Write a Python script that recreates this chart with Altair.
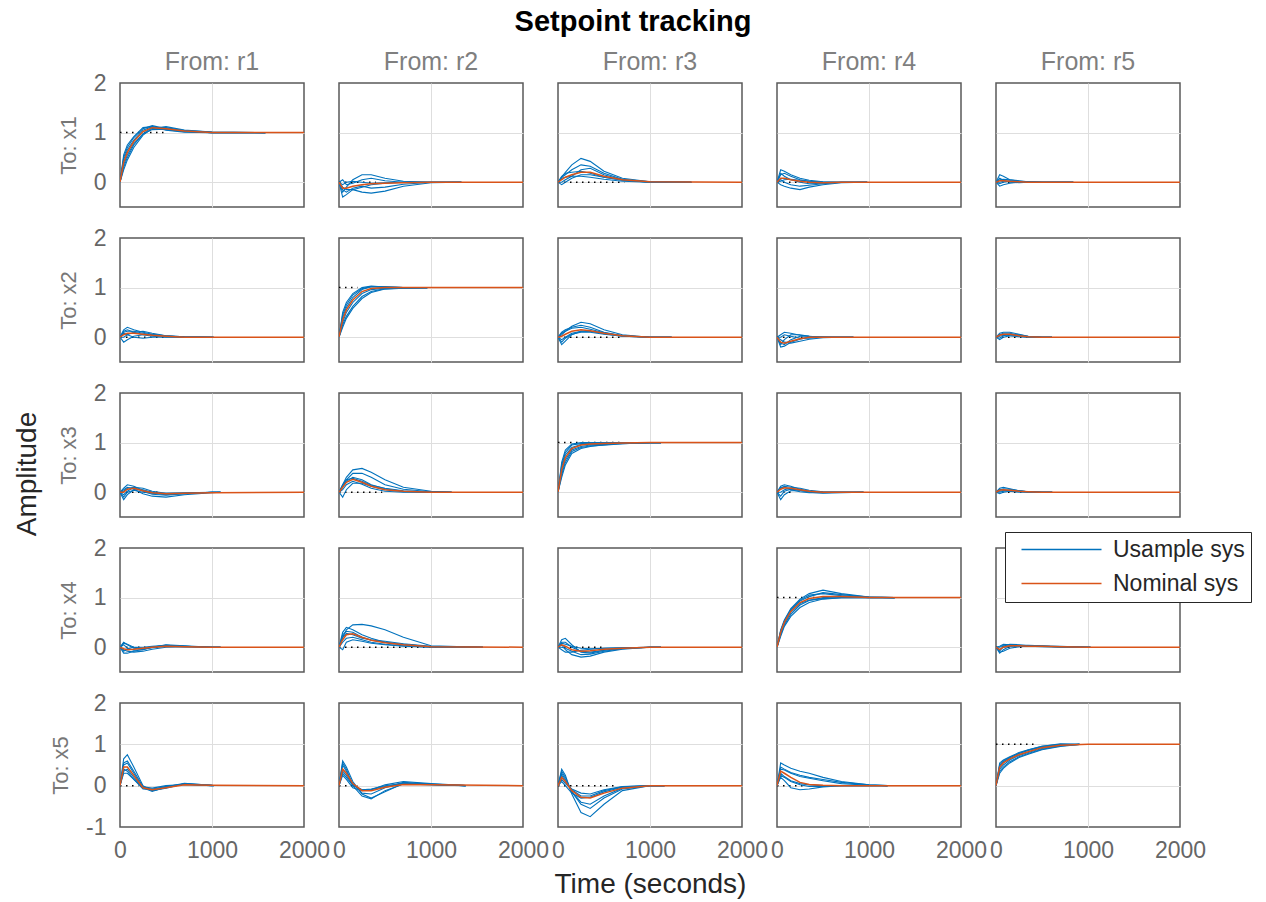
import altair as alt
import pandas as pd

FONT = "Liberation Sans"
BLUE = "#0072BD"
ORANGE = "#D95319"

OUTPUTS = ["x1", "x2", "x3", "x4", "x5"]
INPUTS = ["r1", "r2", "r3", "r4", "r5"]
T = [0, 40, 80, 150, 250, 350, 500, 700, 1000]

# time at which the Usample curves stop (per output row, input column)
USAMPLE_END = [
    [1580, 1330, 1450, 980, 840],
    [1016, 960, 1235, 830, 610],
    [1093, 1224, 1120, 940, 611],
    [1093, 1564, 1120, 1279, 1027],
    [1016, 1377, 1158, 1202, 907],
]
# length of the dotted steady-state marker
DOTTED_END = [
    [500, 400, 720, 450, 300],
    [490, 200, 670, 350, 350],
    [450, 470, 670, 150, 300],
    [450, 1080, 500, 415, 300],
    [200, 200, 630, 300, 430],
]

# ---------------- To: x1 ----------------
x1_r1_nom = [0, 0.4, 0.6, 0.82, 1.02, 1.1, 1.08, 1.03, 1.0]
x1_r1_usample = [
    [0, 0.5, 0.7, 0.9, 1.08, 1.14, 1.08, 1.03, 1.0],
    [0, 0.3, 0.5, 0.75, 0.98, 1.1, 1.1, 1.04, 1.01],
    [0, 0.45, 0.65, 0.85, 1.05, 1.12, 1.06, 1.02, 1.0],
    [0, 0.35, 0.55, 0.78, 0.97, 1.06, 1.07, 1.03, 1.0],
    [0, 0.25, 0.45, 0.7, 0.95, 1.08, 1.12, 1.05, 1.01],
    [0, 0.55, 0.75, 0.92, 1.1, 1.12, 1.05, 1.01, 1.0],
]
x1_r2_nom = [0, -0.12, -0.12, -0.08, -0.05, -0.03, -0.02, -0.01, 0]
x1_r2_usample = [
    [0, -0.2, -0.1, 0.05, 0.15, 0.15, 0.08, 0.02, 0],
    [0, -0.3, -0.25, -0.15, -0.1, -0.05, -0.02, 0, 0],
    [0, -0.1, -0.15, -0.15, -0.2, -0.22, -0.18, -0.08, -0.01],
    [0, 0.05, -0.05, -0.02, 0.05, 0.08, 0.03, 0.0, 0],
    [0, -0.15, -0.2, -0.12, -0.08, -0.12, -0.1, -0.04, 0],
    [0, -0.05, 0.0, 0.02, 0.0, -0.02, -0.01, 0, 0],
]
x1_r3_nom = [0, 0.05, 0.1, 0.15, 0.2, 0.2, 0.12, 0.05, 0.01]
x1_r3_usample = [
    [0, 0.1, 0.2, 0.35, 0.48, 0.42, 0.22, 0.08, 0.01],
    [0, 0.1, 0.15, 0.25, 0.35, 0.32, 0.18, 0.06, 0.01],
    [0, -0.05, 0.0, 0.08, 0.15, 0.15, 0.1, 0.04, 0.0],
    [0, 0.12, 0.18, 0.2, 0.22, 0.18, 0.1, 0.04, 0.0],
    [0, 0.0, 0.05, 0.12, 0.25, 0.28, 0.15, 0.05, 0.0],
    [0, 0.08, 0.1, 0.12, 0.12, 0.1, 0.06, 0.02, 0.0],
]
x1_r4_nom = [0, 0.08, 0.08, 0.05, 0.02, 0.0, -0.01, 0, 0]
x1_r4_usample = [
    [0, 0.25, 0.22, 0.15, 0.08, 0.04, 0.01, 0, 0],
    [0, 0.15, 0.18, 0.12, 0.05, 0.02, 0, 0, 0],
    [0, -0.05, -0.08, -0.12, -0.15, -0.1, -0.05, -0.01, 0],
    [0, 0.05, 0.0, -0.05, -0.08, -0.06, -0.03, 0, 0],
    [0, 0.18, 0.12, 0.05, 0.0, -0.03, -0.02, 0, 0],
    [0, 0.02, 0.05, 0.06, 0.04, 0.02, 0.0, 0, 0],
]
x1_r5_nom = [0, 0.03, 0.03, 0.02, 0.01, 0.0, 0, 0, 0]
x1_r5_usample = [
    [0, 0.15, 0.12, 0.05, 0.02, 0.01, 0, 0, 0],
    [0, -0.08, -0.05, -0.02, 0, 0, 0, 0, 0],
    [0, 0.05, 0.06, 0.05, 0.03, 0.01, 0, 0, 0],
    [0, -0.03, 0.0, 0.02, 0.02, 0.01, 0, 0, 0],
    [0, 0.08, 0.04, 0.0, -0.01, 0, 0, 0, 0],
    [0, 0.0, 0.02, 0.03, 0.01, 0.0, 0, 0, 0],
]

# ---------------- To: x2 ----------------
x2_r1_nom = [0, 0.05, 0.08, 0.08, 0.06, 0.04, 0.02, 0.0, 0]
x2_r1_usample = [
    [0, 0.15, 0.2, 0.15, 0.1, 0.06, 0.03, 0.01, 0],
    [0, -0.1, -0.05, 0.02, 0.05, 0.05, 0.03, 0.01, 0],
    [0, 0.1, 0.12, 0.12, 0.08, 0.05, 0.02, 0, 0],
    [0, 0.0, 0.05, 0.1, 0.12, 0.08, 0.03, 0, 0],
    [0, 0.08, 0.05, 0.0, -0.02, 0.0, 0.01, 0, 0],
    [0, 0.12, 0.15, 0.1, 0.05, 0.02, 0.0, 0, 0],
]
x2_r2_nom = [0, 0.35, 0.55, 0.75, 0.92, 0.98, 1.0, 1.0, 1.0]
x2_r2_usample = [
    [0, 0.45, 0.65, 0.85, 0.98, 1.02, 1.01, 1.0, 1.0],
    [0, 0.25, 0.42, 0.62, 0.82, 0.92, 0.98, 0.99, 1.0],
    [0, 0.4, 0.6, 0.8, 0.96, 1.02, 1.02, 1.0, 1.0],
    [0, 0.3, 0.5, 0.7, 0.88, 0.96, 0.99, 1.0, 1.0],
    [0, 0.5, 0.7, 0.88, 1.0, 1.03, 1.01, 1.0, 1.0],
    [0, 0.2, 0.38, 0.58, 0.78, 0.9, 0.97, 0.99, 1.0],
]
x2_r3_nom = [0, 0.02, 0.06, 0.12, 0.15, 0.13, 0.08, 0.03, 0.0]
x2_r3_usample = [
    [0, 0.05, 0.12, 0.22, 0.3, 0.27, 0.15, 0.05, 0.0],
    [0, -0.15, -0.08, 0.05, 0.12, 0.12, 0.08, 0.03, 0.0],
    [0, 0.08, 0.12, 0.18, 0.2, 0.16, 0.09, 0.03, 0.0],
    [0, -0.05, 0.0, 0.08, 0.12, 0.12, 0.07, 0.02, 0.0],
    [0, 0.1, 0.15, 0.2, 0.24, 0.2, 0.1, 0.03, 0.0],
    [0, -0.1, -0.02, 0.06, 0.1, 0.1, 0.06, 0.02, 0.0],
]
x2_r4_nom = [0, -0.1, -0.12, -0.08, -0.03, 0.0, 0.0, 0, 0]
x2_r4_usample = [
    [0, -0.2, -0.18, -0.1, -0.04, 0.0, 0.01, 0, 0],
    [0, 0.05, 0.1, 0.08, 0.04, 0.02, 0.0, 0, 0],
    [0, -0.15, -0.05, 0.05, 0.05, 0.02, 0.0, 0, 0],
    [0, -0.05, -0.1, -0.12, -0.08, -0.04, -0.01, 0, 0],
    [0, 0.0, 0.05, 0.02, -0.02, -0.02, 0, 0, 0],
    [0, -0.12, -0.15, -0.05, 0.02, 0.02, 0.0, 0, 0],
]
x2_r5_nom = [0, 0.04, 0.06, 0.06, 0.03, 0.01, 0, 0, 0]
x2_r5_usample = [
    [0, 0.08, 0.1, 0.1, 0.06, 0.02, 0, 0, 0],
    [0, -0.05, 0.0, 0.03, 0.03, 0.01, 0, 0, 0],
    [0, 0.05, 0.08, 0.08, 0.04, 0.01, 0, 0, 0],
    [0, 0.02, 0.04, 0.05, 0.05, 0.02, 0, 0, 0],
    [0, -0.02, 0.03, 0.06, 0.02, 0.0, 0, 0, 0],
    [0, 0.06, 0.05, 0.03, 0.01, 0.0, 0, 0, 0],
]

# ---------------- To: x3 ----------------
x3_r1_nom = [0, 0.0, 0.06, 0.08, 0.03, -0.01, -0.03, -0.02, -0.01]
x3_r1_usample = [
    [0, 0.08, 0.15, 0.12, 0.04, -0.02, -0.05, -0.03, 0.0],
    [0, -0.15, -0.05, 0.05, 0.05, 0.0, -0.04, -0.02, 0.0],
    [0, 0.05, 0.1, 0.06, -0.03, -0.08, -0.1, -0.05, -0.01],
    [0, -0.05, 0.02, 0.1, 0.08, 0.02, -0.02, -0.02, 0.0],
    [0, 0.02, 0.08, 0.1, 0.02, -0.04, -0.06, -0.03, 0.0],
    [0, -0.1, 0.0, 0.04, 0.0, -0.02, -0.02, -0.01, 0.0],
]
x3_r2_nom = [0, 0.1, 0.2, 0.26, 0.2, 0.12, 0.05, 0.02, 0.0]
x3_r2_usample = [
    [0, 0.15, 0.3, 0.45, 0.48, 0.4, 0.25, 0.1, 0.02],
    [0, 0.1, 0.25, 0.38, 0.38, 0.3, 0.15, 0.06, 0.01],
    [0, -0.1, 0.05, 0.18, 0.18, 0.12, 0.05, 0.01, 0.0],
    [0, 0.12, 0.22, 0.3, 0.25, 0.15, 0.07, 0.02, 0.0],
    [0, 0.05, 0.15, 0.22, 0.16, 0.08, 0.02, 0.0, 0.0],
    [0, 0.15, 0.25, 0.28, 0.22, 0.14, 0.08, 0.03, 0.0],
]
x3_r3_nom = [0, 0.45, 0.7, 0.88, 0.95, 0.97, 0.98, 0.99, 1.0]
x3_r3_usample = [
    [0, 0.55, 0.8, 0.95, 0.98, 0.99, 0.99, 1.0, 1.0],
    [0, 0.35, 0.6, 0.82, 0.9, 0.93, 0.95, 0.98, 1.0],
    [0, 0.5, 0.75, 0.9, 0.96, 0.97, 0.98, 0.99, 1.0],
    [0, 0.4, 0.65, 0.85, 0.92, 0.95, 0.97, 0.99, 1.0],
    [0, 0.6, 0.85, 0.97, 1.0, 1.0, 1.0, 1.0, 1.0],
    [0, 0.3, 0.55, 0.78, 0.88, 0.92, 0.96, 0.98, 1.0],
]
x3_r4_nom = [0, 0.06, 0.09, 0.08, 0.05, 0.02, 0.0, 0, 0]
x3_r4_usample = [
    [0, 0.12, 0.15, 0.12, 0.06, 0.02, 0.0, 0, 0],
    [0, -0.15, -0.05, 0.03, 0.03, 0.01, 0, 0, 0],
    [0, 0.08, 0.12, 0.1, 0.08, 0.04, 0.01, 0, 0],
    [0, 0.0, 0.05, 0.08, 0.04, 0.0, -0.02, -0.01, 0],
    [0, -0.08, 0.02, 0.06, 0.05, 0.02, 0.0, 0, 0],
    [0, 0.1, 0.1, 0.05, 0.01, -0.01, -0.01, 0, 0],
]
x3_r5_nom = [0, 0.04, 0.05, 0.04, 0.02, 0.01, 0, 0, 0]
x3_r5_usample = [
    [0, 0.08, 0.1, 0.07, 0.03, 0.01, 0, 0, 0],
    [0, -0.03, 0.0, 0.02, 0.02, 0.01, 0, 0, 0],
    [0, 0.05, 0.07, 0.06, 0.03, 0.01, 0, 0, 0],
    [0, 0.02, 0.03, 0.03, 0.02, 0.0, 0, 0, 0],
    [0, 0.06, 0.04, 0.02, 0.0, 0.0, 0, 0, 0],
    [0, 0.0, 0.02, 0.04, 0.03, 0.01, 0, 0, 0],
]

# ---------------- To: x4 ----------------
x4_r1_nom = [0, -0.03, -0.05, -0.04, -0.02, 0.0, 0.02, 0.01, 0.0]
x4_r1_usample = [
    [0, 0.1, 0.05, -0.02, -0.04, 0.0, 0.05, 0.03, 0.0],
    [0, -0.12, -0.12, -0.08, -0.04, -0.01, 0.02, 0.02, 0.0],
    [0, 0.05, -0.02, -0.06, -0.05, 0.0, 0.04, 0.02, 0.0],
    [0, -0.05, -0.08, -0.1, -0.08, -0.04, 0.0, 0.01, 0.0],
    [0, 0.08, 0.06, 0.0, -0.02, 0.01, 0.03, 0.01, 0.0],
    [0, -0.08, -0.03, 0.0, 0.0, 0.02, 0.04, 0.02, 0.0],
]
x4_r2_nom = [0, 0.15, 0.25, 0.27, 0.2, 0.14, 0.09, 0.05, 0.01]
x4_r2_usample = [
    [0, 0.2, 0.35, 0.45, 0.46, 0.43, 0.35, 0.2, 0.03],
    [0, 0.3, 0.4, 0.35, 0.25, 0.18, 0.1, 0.04, 0.01],
    [0, 0.1, 0.18, 0.2, 0.15, 0.1, 0.06, 0.03, 0.0],
    [0, 0.25, 0.32, 0.3, 0.2, 0.14, 0.1, 0.06, 0.01],
    [0, -0.05, 0.1, 0.15, 0.12, 0.08, 0.05, 0.02, 0.0],
    [0, 0.2, 0.28, 0.25, 0.18, 0.15, 0.12, 0.07, 0.02],
]
x4_r3_nom = [0, 0.05, 0.02, -0.05, -0.08, -0.07, -0.04, -0.02, 0.0]
x4_r3_usample = [
    [0, 0.15, 0.18, 0.05, -0.1, -0.12, -0.06, -0.02, 0.0],
    [0, 0.05, -0.05, -0.15, -0.2, -0.18, -0.1, -0.04, 0.0],
    [0, -0.05, -0.1, -0.1, -0.06, -0.04, -0.02, -0.01, 0.0],
    [0, 0.1, 0.1, 0.0, -0.08, -0.1, -0.06, -0.02, 0.0],
    [0, 0.0, -0.02, -0.08, -0.15, -0.14, -0.08, -0.03, 0.0],
    [0, 0.08, 0.06, 0.02, -0.02, -0.03, -0.02, -0.01, 0.0],
]
x4_r4_nom = [0, 0.3, 0.5, 0.72, 0.9, 0.98, 1.02, 1.02, 1.0]
x4_r4_usample = [
    [0, 0.35, 0.55, 0.78, 0.97, 1.08, 1.15, 1.08, 1.01],
    [0, 0.25, 0.45, 0.66, 0.85, 0.94, 1.0, 1.02, 1.01],
    [0, 0.3, 0.52, 0.75, 0.95, 1.05, 1.08, 1.04, 1.0],
    [0, 0.28, 0.48, 0.7, 0.88, 0.95, 0.98, 1.0, 1.0],
    [0, 0.33, 0.53, 0.76, 0.93, 1.02, 1.1, 1.06, 1.01],
    [0, 0.22, 0.42, 0.62, 0.8, 0.9, 0.97, 1.0, 1.0],
]
x4_r5_nom = [0, -0.05, 0.0, 0.03, 0.03, 0.02, 0.02, 0.01, 0.0]
x4_r5_usample = [
    [0, -0.12, -0.05, 0.02, 0.04, 0.04, 0.03, 0.02, 0.0],
    [0, 0.02, 0.06, 0.05, 0.03, 0.02, 0.02, 0.01, 0.0],
    [0, -0.08, 0.02, 0.06, 0.05, 0.03, 0.02, 0.01, 0.0],
    [0, -0.1, -0.08, -0.02, 0.01, 0.02, 0.02, 0.01, 0.0],
    [0, 0.0, 0.04, 0.04, 0.03, 0.03, 0.02, 0.01, 0.0],
    [0, -0.05, 0.0, 0.02, 0.02, 0.02, 0.01, 0.0, 0.0],
]

# ---------------- To: x5 ----------------
x5_r1_nom = [0, 0.45, 0.45, 0.25, -0.05, -0.1, -0.05, 0.02, 0.01]
x5_r1_usample = [
    [0, 0.65, 0.75, 0.45, 0.0, -0.12, -0.05, 0.04, 0.01],
    [0, 0.3, 0.3, 0.15, -0.05, -0.08, -0.02, 0.03, 0.0],
    [0, 0.55, 0.6, 0.35, -0.02, -0.12, -0.06, 0.05, 0.01],
    [0, 0.4, 0.35, 0.15, -0.08, -0.1, -0.02, 0.04, 0.0],
    [0, 0.5, 0.55, 0.3, -0.05, -0.14, -0.03, 0.06, 0.01],
    [0, 0.35, 0.4, 0.2, -0.03, -0.06, 0.0, 0.03, 0.0],
]
x5_r2_nom = [0, 0.4, 0.3, 0.05, -0.12, -0.12, -0.04, 0.03, 0.02]
x5_r2_usample = [
    [0, 0.6, 0.45, 0.1, -0.2, -0.3, -0.15, 0.05, 0.03],
    [0, 0.3, 0.2, 0.0, -0.1, -0.08, 0.0, 0.06, 0.03],
    [0, 0.5, 0.35, 0.05, -0.18, -0.2, -0.05, 0.08, 0.04],
    [0, 0.35, 0.25, 0.02, -0.1, -0.1, 0.02, 0.1, 0.05],
    [0, 0.55, 0.4, 0.0, -0.25, -0.32, -0.12, 0.04, 0.03],
    [0, 0.25, 0.15, -0.05, -0.12, -0.1, -0.02, 0.05, 0.02],
]
x5_r3_nom = [0, 0.2, 0.1, -0.12, -0.28, -0.3, -0.18, -0.06, 0.0]
x5_r3_usample = [
    [0, 0.4, 0.25, -0.2, -0.65, -0.75, -0.45, -0.12, 0.0],
    [0, 0.3, 0.15, -0.15, -0.45, -0.55, -0.3, -0.08, 0.0],
    [0, 0.1, 0.0, -0.18, -0.3, -0.28, -0.15, -0.04, 0.0],
    [0, 0.25, 0.1, -0.1, -0.25, -0.25, -0.12, -0.03, 0.0],
    [0, 0.35, 0.2, -0.15, -0.4, -0.45, -0.25, -0.06, 0.0],
    [0, 0.15, 0.05, -0.08, -0.18, -0.2, -0.1, -0.02, 0.0],
]
x5_r4_nom = [0, 0.35, 0.3, 0.2, 0.08, 0.03, 0.01, 0.0, 0.0]
x5_r4_usample = [
    [0, 0.55, 0.5, 0.42, 0.35, 0.3, 0.2, 0.1, 0.02],
    [0, 0.4, 0.38, 0.3, 0.22, 0.18, 0.12, 0.05, 0.01],
    [0, 0.25, 0.2, 0.1, 0.02, -0.02, -0.02, 0.0, 0.0],
    [0, 0.45, 0.4, 0.32, 0.25, 0.2, 0.15, 0.08, 0.02],
    [0, 0.3, 0.22, 0.12, 0.05, 0.02, 0.0, 0.0, 0.0],
    [0, 0.2, 0.12, -0.05, -0.1, -0.08, -0.03, 0.0, 0.0],
]
x5_r5_nom = [0, 0.45, 0.55, 0.65, 0.75, 0.82, 0.92, 0.98, 1.0]
x5_r5_usample = [
    [0, 0.55, 0.62, 0.7, 0.8, 0.87, 0.95, 1.0, 1.0],
    [0, 0.35, 0.45, 0.58, 0.7, 0.78, 0.88, 0.96, 1.0],
    [0, 0.5, 0.6, 0.68, 0.78, 0.85, 0.93, 0.99, 1.0],
    [0, 0.4, 0.5, 0.62, 0.73, 0.8, 0.9, 0.97, 1.0],
    [0, 0.48, 0.58, 0.67, 0.78, 0.86, 0.95, 1.01, 1.0],
    [0, 0.3, 0.42, 0.55, 0.68, 0.76, 0.87, 0.95, 1.0],
]

NOMINAL = [
    [x1_r1_nom, x1_r2_nom, x1_r3_nom, x1_r4_nom, x1_r5_nom],
    [x2_r1_nom, x2_r2_nom, x2_r3_nom, x2_r4_nom, x2_r5_nom],
    [x3_r1_nom, x3_r2_nom, x3_r3_nom, x3_r4_nom, x3_r5_nom],
    [x4_r1_nom, x4_r2_nom, x4_r3_nom, x4_r4_nom, x4_r5_nom],
    [x5_r1_nom, x5_r2_nom, x5_r3_nom, x5_r4_nom, x5_r5_nom],
]
USAMPLE = [
    [x1_r1_usample, x1_r2_usample, x1_r3_usample, x1_r4_usample, x1_r5_usample],
    [x2_r1_usample, x2_r2_usample, x2_r3_usample, x2_r4_usample, x2_r5_usample],
    [x3_r1_usample, x3_r2_usample, x3_r3_usample, x3_r4_usample, x3_r5_usample],
    [x4_r1_usample, x4_r2_usample, x4_r3_usample, x4_r4_usample, x4_r5_usample],
    [x5_r1_usample, x5_r2_usample, x5_r3_usample, x5_r4_usample, x5_r5_usample],
]

SERIES = ["Usample sys", "Nominal sys"]
T_MAX = 2000
PW, PH = 184, 124
TICK_FS = 23
LABEL_COLOR = "#666666"


def panel(i, j):
    final = 1.0 if i == j else 0.0
    nom_rows = [{"t": t, "y": v, "series": "Nominal sys", "id": "nom"} for t, v in zip(T, NOMINAL[i][j])]
    nom_rows.append({"t": T_MAX, "y": final, "series": "Nominal sys", "id": "nom"})
    end = USAMPLE_END[i][j]
    us_rows = []
    for k, curve in enumerate(USAMPLE[i][j]):
        for t, v in zip(T, curve):
            if t < end:
                us_rows.append({"t": t, "y": v, "series": "Usample sys", "id": f"s{k}"})
        us_rows.append({"t": end, "y": final, "series": "Usample sys", "id": f"s{k}"})
    dot_rows = [{"t": 0, "y": final}, {"t": DOTTED_END[i][j], "y": final}]

    bottom = i == 4
    x_kw = dict(values=[0, 1000, 2000], format="d", labels=bottom, ticks=False, domain=False, grid=True,
                gridColor={"condition": {"test": "datum.value > 0 && datum.value < 2000", "value": "#dedede"},
                           "value": "transparent"},
                labelFontSize=TICK_FS, labelColor=LABEL_COLOR, labelPadding=12, labelFlush=False,
                labelOverlap=False, labelFont=FONT)
    if bottom and j == 2:
        x_kw.update(title="Time (seconds)", titleFontSize=28, titleColor="#262626",
                    titleFontWeight="normal", titlePadding=8, titleFont=FONT)
    else:
        x_kw.update(title="")
    x = alt.X("t:Q", scale=alt.Scale(domain=[0, T_MAX], nice=False, zero=False), axis=alt.Axis(**x_kw))

    if i == 4:
        ydom, yvals = [-1, 2], [-1, 0, 1, 2]
    else:
        ydom, yvals = [-0.5, 2], [0, 1, 2]
    y_kw = dict(values=yvals, labels=True, ticks=False, domain=False, grid=True,
                gridColor={"condition": {"test": f"datum.value > {ydom[0]} && datum.value < 2", "value": "#dedede"},
                           "value": "transparent"},
                labelExpr="replace(datum.label, '\u2212', '-')",
                labelFontSize=TICK_FS, labelColor=LABEL_COLOR, labelPadding=14, labelFlush=False,
                labelOpacity=(1 if j == 0 else 0), labelFont=FONT)
    if j == 0:
        y_kw.update(title=f"To: {OUTPUTS[i]}", titleFontSize=22, titleColor="#777777",
                    titleFontWeight="normal", titlePadding=13, titleFont=FONT)
    else:
        y_kw.update(title="")
    y = alt.Y("y:Q", scale=alt.Scale(domain=ydom, nice=False, zero=False), axis=alt.Axis(**y_kw))

    cscale = alt.Scale(domain=SERIES, range=[BLUE, ORANGE])
    if i == 3 and j == 4:
        leg = alt.Legend(orient="none", legendX=9, legendY=-16, title=None,
                         strokeColor="#262626", fillColor="white", padding=6,
                         symbolType="M-0.1,0H7.9", symbolSize=400, symbolStrokeWidth=1.5,
                         labelOffset=79, labelFontSize=23, labelFont=FONT,
                         labelColor="#262626", labelLimit=300, rowPadding=10)
    else:
        leg = None

    dotted = alt.Chart(pd.DataFrame(dot_rows)).mark_line(
        color="black", strokeDash=[1.5, 4.5], strokeWidth=1.5, clip=True
    ).encode(x=x, y=y)
    blue = alt.Chart(pd.DataFrame(us_rows)).mark_line(strokeWidth=1.1, clip=True).encode(
        x=x, y=y, detail="id:N",
        color=alt.Color("series:N", scale=cscale, legend=leg),
    )
    orange = alt.Chart(pd.DataFrame(nom_rows)).mark_line(strokeWidth=1.5, clip=True).encode(
        x=x, y=y,
        color=alt.Color("series:N", scale=cscale, legend=leg),
    )
    props = dict(width=PW, height=PH)
    if i == 0:
        props["title"] = alt.TitleParams(f"From: {INPUTS[j]}", fontSize=25, color="#7f7f7f",
                                         fontWeight="normal", font=FONT, offset=-3)
    return alt.layer(dotted, blue, orange).properties(**props)


panels = [panel(i, j) for i in range(5) for j in range(5)]
grid = alt.concat(*panels, columns=5, spacing={"row": 31, "column": 35}, bounds="flush")
grid = grid.resolve_legend(color="independent").resolve_scale(color="independent")

with_amp = alt.vconcat(grid, title=alt.TitleParams("Amplitude", orient="left", anchor="middle", fontSize=28,
                                                      color="#262626", fontWeight="normal",
                                                      font=FONT, offset=7))
with_amp = with_amp.resolve_legend(color="independent").resolve_scale(color="independent")
chart = alt.vconcat(with_amp, title=alt.TitleParams("Setpoint tracking", fontSize=29,
                                                     fontWeight="bold", color="#000000",
                                                     font=FONT, anchor="middle", offset=12))
chart = chart.resolve_legend(color="independent").resolve_scale(color="independent")
chart = chart.properties(
    padding={"left": 13, "top": 8, "right": 5, "bottom": 2}, background="white"
).configure_view(
    stroke="#5a5a5a", strokeWidth=1.5
).configure_axis(gridWidth=1)

chart.save("out.html", embed_options={"renderer": "svg", "actions": False})
